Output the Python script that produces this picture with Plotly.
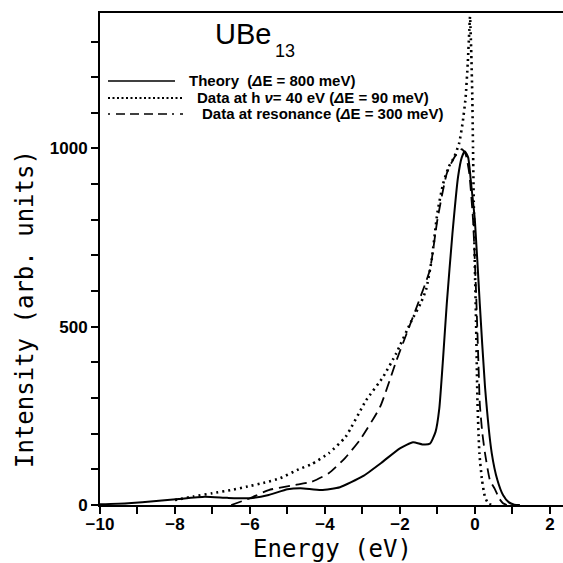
import plotly.graph_objects as go

# ---------------- data ----------------
theory_E = [-10.0, -9.25, -8.5, -7.9, -7.2, -6.6, -6.0, -5.5, -5.0, -4.65, -4.1, -3.6,
            -3.0, -2.5, -2.0, -1.65, -1.4, -1.2, -1.05, -0.95, -0.85, -0.75, -0.6,
            -0.45, -0.35, -0.27, -0.18, -0.1, 0.0, 0.13, 0.27, 0.45, 0.6, 0.75, 0.9,
            1.05, 1.2]
theory_I = [2, 5, 11, 17, 23, 20, 19, 28, 44, 47, 42, 50,
            80, 118, 159, 176, 170, 172, 205, 270, 410, 565, 760,
            920, 975, 992, 975, 900, 798, 565, 331, 145, 70, 28, 8,
            1, 0]

hv40_E = [-8.0, -7.5, -7.0, -6.5, -6.1, -5.6, -5.2, -4.7, -4.35, -3.9, -3.45, -2.9,
          -2.45, -2.1, -1.7, -1.45, -1.3, -1.15, -1.0, -0.85, -0.7, -0.55, -0.42,
          -0.33, -0.25, -0.19, -0.15, -0.13, -0.10, -0.07, -0.05, -0.03, -0.01,
          0.03, 0.07, 0.12, 0.19, 0.27, 0.37, 0.5]
hv40_I = [14, 24, 33, 42, 51, 63, 75, 100, 115, 145, 191, 294,
          359, 425, 515, 565, 605, 690, 820, 900, 948, 976, 1015,
          1070, 1140, 1240, 1330, 1370, 1280, 1150, 1000, 850, 714,
          518, 285, 145, 70, 22, 3, 0]

res_E = [-6.5, -6.0, -5.5, -4.8, -4.36, -3.9, -3.47, -3.07, -2.53, -2.09, -1.82,
         -1.5, -1.2, -1.0, -0.75, -0.55, -0.35, -0.25, -0.15, -0.05, 0.03, 0.1,
         0.13, 0.2, 0.27, 0.4, 0.53, 0.65, 0.75, 0.85]
res_I = [0, 19, 42, 56, 65, 89, 131, 182, 275, 406, 481,
         570, 660, 800, 930, 975, 998, 985, 930, 800, 600, 380,
         285, 200, 145, 70, 45, 18, 5, 0]

x_ticks = [-10, -9, -8, -7, -6, -5, -4, -3, -2, -1, 0, 1, 2]
x_ticktext = ["\u221210", "", "\u22128", "", "\u22126", "", "\u22124", "", "\u22122", "", "0", "", "2"]
y_ticks = [0, 100, 200, 300, 400, 500, 600, 700, 800, 900, 1000, 1100, 1200, 1300]
y_ticktext = ["0", "", "", "", "", "500", "", "", "", "", "1000", "", "", ""]

legend_labels = ["Theory  (<i>\u0394</i>E = 800 meV)",
                 "Data at h <i>\u03bd</i>= 40 eV (<i>\u0394</i>E = 90 meV)",
                 "Data at resonance (<i>\u0394</i>E = 300 meV)"]

# ---------------- layout geometry ----------------
W = H = 563
L, R, T, B = 100, 0, 13, 58
PW, PH = W - L - R, H - T - B


def px(x):
    return (x - L) / PW


def py(y):
    return (H - B - y) / PH


fig = go.Figure()
fig.add_trace(go.Scatter(x=theory_E, y=theory_I, mode="lines",
                         line=dict(color="black", width=2, shape="spline", smoothing=0.5),
                         showlegend=False))
fig.add_trace(go.Scatter(x=hv40_E, y=hv40_I, mode="lines",
                         line=dict(color="black", width=2.6, dash="2px,4px", shape="spline", smoothing=0.5),
                         showlegend=False))
fig.add_trace(go.Scatter(x=res_E, y=res_I, mode="lines",
                         line=dict(color="black", width=1.8, dash="11px,6px", shape="spline", smoothing=0.5),
                         showlegend=False))

tickfont = dict(family="Liberation Sans, Arial", size=17, color="black", weight="bold")
fig.update_xaxes(range=[-10, 2.35], showgrid=False, zeroline=False,
                 showline=True, linecolor="black", linewidth=2, mirror=True,
                 ticks="outside", ticklen=7, tickwidth=2, tickcolor="black",
                 tickmode="array", tickvals=x_ticks, ticktext=x_ticktext,
                 tickfont=tickfont, ticklabelstandoff=-4)
fig.update_yaxes(range=[0, 1380], showgrid=False, zeroline=False,
                 showline=True, linecolor="black", linewidth=2, mirror=False,
                 ticks="outside", ticklen=7, tickwidth=2, tickcolor="black",
                 tickmode="array", tickvals=y_ticks, ticktext=y_ticktext,
                 tickfont=tickfont)

annotations = []
title_font = dict(family="DejaVu Sans Mono", size=24, color="black")
annotations.append(dict(text="Energy (eV)", xref="paper", yref="paper",
                        x=px(332), y=py(549), xanchor="center", yanchor="middle",
                        showarrow=False, font=title_font))
annotations.append(dict(text="Intensity (arb. units)", xref="paper", yref="paper",
                        x=px(25), y=py(309), xanchor="center", yanchor="middle",
                        textangle=-90, showarrow=False, font=title_font))
annotations.append(dict(text="UBe", xref="paper", yref="paper",
                        x=px(213), y=py(34), xanchor="left", yanchor="middle",
                        showarrow=False,
                        font=dict(family="Liberation Sans, Arial", size=29, color="black")))
annotations.append(dict(text="13", xref="paper", yref="paper",
                        x=px(273), y=py(51), xanchor="left", yanchor="middle",
                        showarrow=False,
                        font=dict(family="Liberation Sans, Arial", size=18, color="black")))

leg_font = dict(family="Liberation Sans, Arial", size=15, color="black", weight="bold")
leg_text_x = [187, 195, 200]
leg_y = [80, 97, 113]
for lab, tx, ty in zip(legend_labels, leg_text_x, leg_y):
    annotations.append(dict(text=lab, xref="paper", yref="paper",
                            x=px(tx), y=py(ty), xanchor="left", yanchor="middle",
                            showarrow=False, font=leg_font))

shapes = [
    dict(type="line", xref="paper", yref="paper", x0=px(108), x1=px(175),
         y0=py(81), y1=py(81), line=dict(color="black", width=1.5)),
    dict(type="line", xref="paper", yref="paper", x0=px(108), x1=px(183),
         y0=py(98), y1=py(98), line=dict(color="black", width=2, dash="2px,2.5px")),
    dict(type="line", xref="paper", yref="paper", x0=px(108), x1=px(183),
         y0=py(114), y1=py(114), line=dict(color="black", width=1.5, dash="2px,6px,9px,5px,9px,5px,9px,5px,9px,5px")),
]

fig.update_layout(width=W, height=H, margin=dict(l=L, r=R, t=T, b=B),
                  paper_bgcolor="white", plot_bgcolor="white",
                  annotations=annotations, shapes=shapes, showlegend=False)

fig.write_html("out.html")
